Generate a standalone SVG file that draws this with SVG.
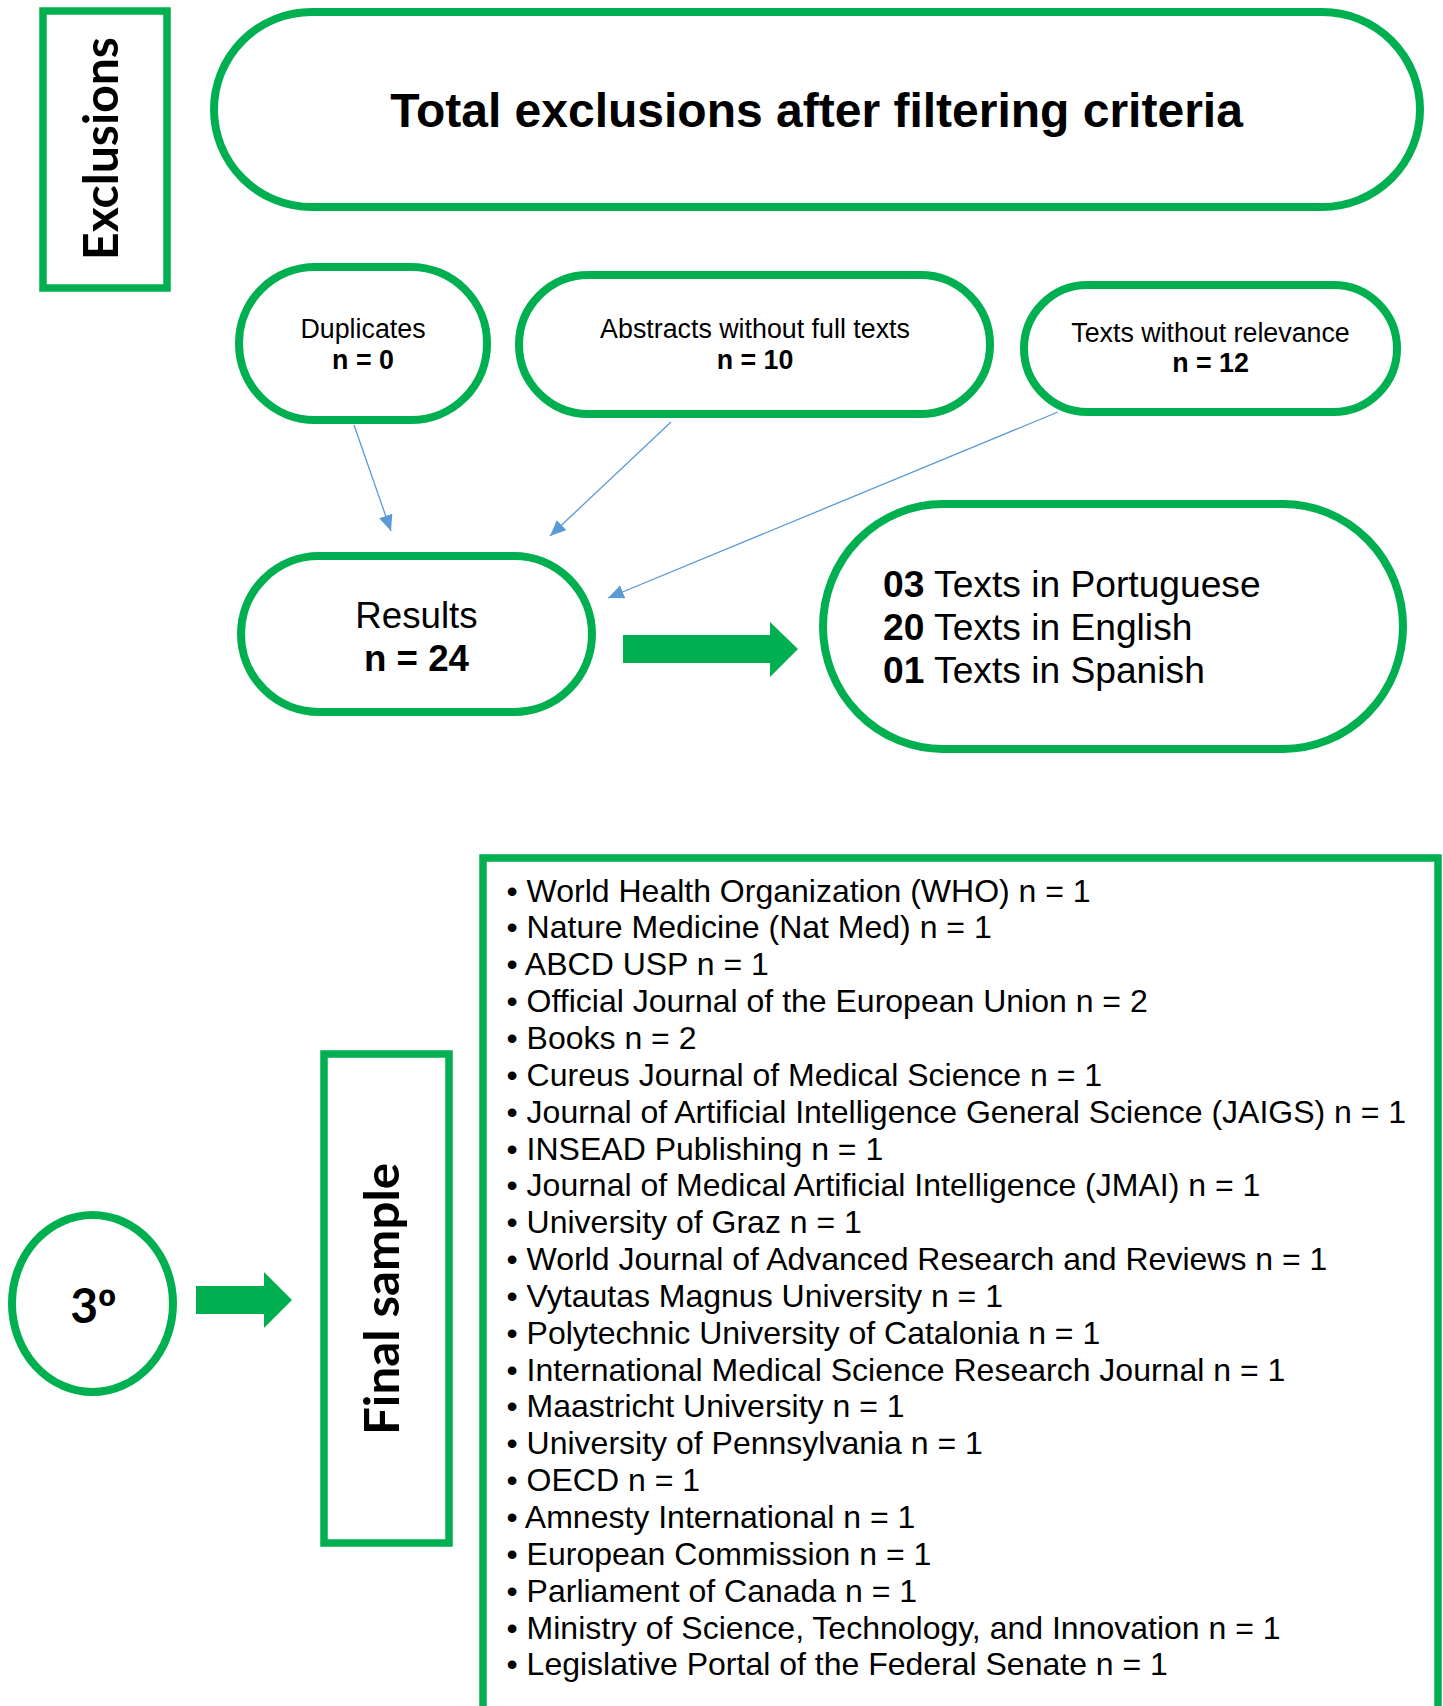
<svg xmlns="http://www.w3.org/2000/svg" width="1443" height="1706" viewBox="0 0 1443 1706">
<style>
.box{fill:#fff;stroke:#00B050;stroke-width:8}
.thin{fill:none;stroke:#00B050;stroke-width:7.5}
.t{font-family:"Liberation Sans",Arial,sans-serif;fill:#000}
.c{font-family:Lato,"Open Sans",sans-serif;font-weight:bold;fill:#000}
.b{font-weight:bold}
.con{stroke:#5B9BD5;stroke-width:1.3;fill:none}
.big{fill:#00B050}
</style>
<defs>
<marker id="ah" markerUnits="userSpaceOnUse" markerWidth="18" markerHeight="16" refX="16" refY="7" orient="auto">
<path d="M0,0 L16,7 L0,14 Z" fill="#5B9BD5"/>
</marker>
</defs>
<g id="exclusions">
<rect class="thin" x="43" y="11" width="124" height="277"/>
<text class="c" font-size="48" text-anchor="middle" transform="translate(118,148.5) rotate(-90)" textLength="223" lengthAdjust="spacingAndGlyphs">Exclusions</text>
</g>
<g id="total">
<rect class="box" x="214" y="12" width="1206" height="195" rx="97.5" ry="97.5"/>
<text class="t b" font-size="48" x="816.5" y="127" text-anchor="middle">Total exclusions after filtering criteria</text>
</g>
<g id="duplicates">
<rect class="box" x="239" y="267" width="248" height="153" rx="76" ry="76"/>
<text class="t" font-size="26.8" x="363" y="338" text-anchor="middle">Duplicates</text>
<text class="t b" font-size="26.8" x="363" y="369" text-anchor="middle">n = 0</text>
</g>
<g id="abstracts">
<rect class="box" x="519" y="275" width="471" height="139" rx="69.5" ry="69.5"/>
<text class="t" font-size="26.8" x="755" y="338" text-anchor="middle">Abstracts without full texts</text>
<text class="t b" font-size="26.8" x="755" y="369" text-anchor="middle">n = 10</text>
</g>
<g id="relevance">
<rect class="box" x="1024" y="285" width="373" height="127" rx="63.5" ry="63.5"/>
<text class="t" font-size="26.8" x="1210.5" y="342" text-anchor="middle">Texts without relevance</text>
<text class="t b" font-size="26.8" x="1210.5" y="372" text-anchor="middle">n = 12</text>
</g>
<g id="results">
<rect class="box" x="241" y="556" width="351" height="156" rx="78" ry="78"/>
<text class="t" font-size="36.7" x="416.5" y="628" text-anchor="middle">Results</text>
<text class="t b" font-size="36.7" x="416.5" y="671" text-anchor="middle">n = 24</text>
</g>
<g id="languages">
<rect class="box" x="823" y="504" width="580" height="245" rx="120" ry="122.5"/>
<text class="t" font-size="37.2" x="883" y="597"><tspan class="b">03</tspan> Texts in Portuguese</text>
<text class="t" font-size="37.2" x="883" y="640"><tspan class="b">20</tspan> Texts in English</text>
<text class="t" font-size="37.2" x="883" y="683"><tspan class="b">01</tspan> Texts in Spanish</text>
</g>
<g id="step3">
<ellipse class="box" cx="92.5" cy="1303.5" rx="80.5" ry="88.5"/>
<text class="c" font-size="48" x="93" y="1323" text-anchor="middle">3<tspan font-family="'Liberation Sans',Arial,sans-serif">º</tspan></text>
</g>
<g id="final-sample">
<rect class="thin" x="324" y="1054" width="125" height="489"/>
<text class="c" font-size="48" text-anchor="middle" transform="translate(399,1299) rotate(-90)" textLength="272" lengthAdjust="spacingAndGlyphs">Final sample</text>
</g>
<g id="sources">
<rect class="thin" x="483" y="858" width="955" height="880"/>
<g class="t" font-size="32">
<text x="506.5" y="901.5">• World Health Organization (WHO) n = 1</text>
<text x="506.5" y="938.4">• Nature Medicine (Nat Med) n = 1</text>
<text x="506.5" y="975.2">• ABCD USP n = 1</text>
<text x="506.5" y="1012.1">• Official Journal of the European Union n = 2</text>
<text x="506.5" y="1048.9">• Books n = 2</text>
<text x="506.5" y="1085.8">• Cureus Journal of Medical Science n = 1</text>
<text x="506.5" y="1122.6">• Journal of Artificial Intelligence General Science (JAIGS) n = 1</text>
<text x="506.5" y="1159.5">• INSEAD Publishing n = 1</text>
<text x="506.5" y="1196.3">• Journal of Medical Artificial Intelligence (JMAI) n = 1</text>
<text x="506.5" y="1233.2">• University of Graz n = 1</text>
<text x="506.5" y="1270.0">• World Journal of Advanced Research and Reviews n = 1</text>
<text x="506.5" y="1306.9">• Vytautas Magnus University n = 1</text>
<text x="506.5" y="1343.7">• Polytechnic University of Catalonia n = 1</text>
<text x="506.5" y="1380.6">• International Medical Science Research Journal n = 1</text>
<text x="506.5" y="1417.4">• Maastricht University n = 1</text>
<text x="506.5" y="1454.3">• University of Pennsylvania n = 1</text>
<text x="506.5" y="1491.1">• OECD n = 1</text>
<text x="506.5" y="1528.0">• Amnesty International n = 1</text>
<text x="506.5" y="1564.8">• European Commission n = 1</text>
<text x="506.5" y="1601.7">• Parliament of Canada n = 1</text>
<text x="506.5" y="1638.5">• Ministry of Science, Technology, and Innovation n = 1</text>
<text x="506.5" y="1675.4">• Legislative Portal of the Federal Senate n = 1</text>
</g>
</g>
<g id="connectors">
<line class="con" x1="354" y1="425" x2="391" y2="531" marker-end="url(#ah)"/>
<line class="con" x1="671" y1="422" x2="550" y2="536" marker-end="url(#ah)"/>
<line class="con" x1="1058" y1="412" x2="608" y2="598" marker-end="url(#ah)"/>
<polygon class="big" points="623,635 770,635 770,622 798,649 770,677 770,663 623,663"/>
<polygon class="big" points="196,1286 264,1286 264,1272 292,1300 264,1328 264,1314 196,1314"/>
</g>
</svg>
